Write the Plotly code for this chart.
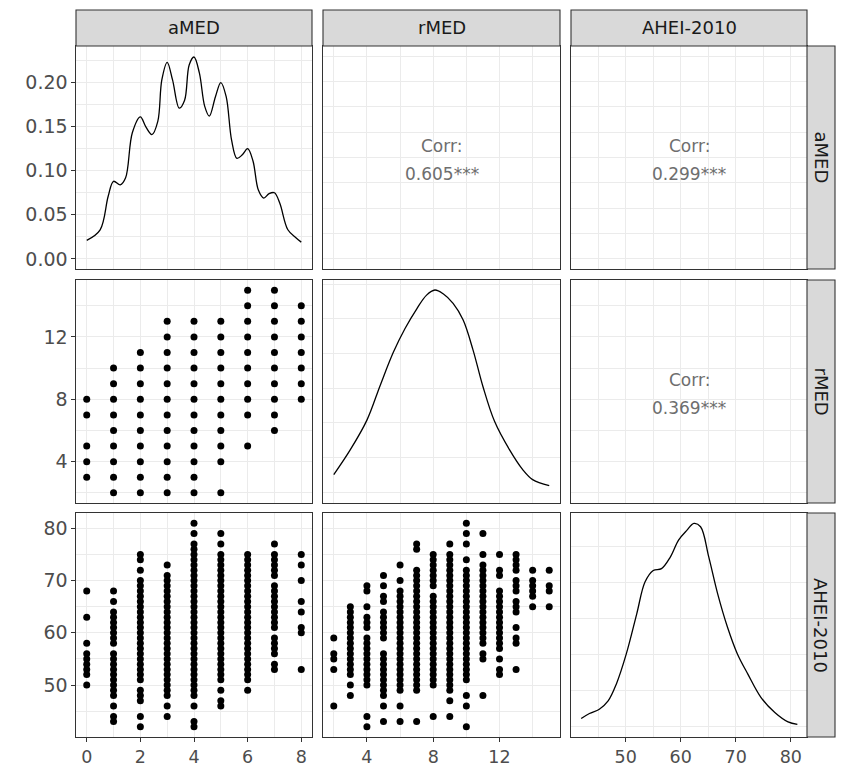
import plotly.graph_objects as go

# ---------------- data ----------------
VARS = ["aMED", "rMED", "AHEI-2010"]

AMED_LEVELS = [0, 1, 2, 3, 4, 5, 6, 7, 8]
RMED_LEVELS = [2, 3, 4, 5, 6, 7, 8, 9, 10, 11, 12, 13, 14, 15]

# rMED values observed at each aMED level (panel row 2, col 1)
RMED_BY_AMED = [
    [8, 7, 5, 4, 3],
    [10, 9, 8, 7, 6, 5, 4, 3, 2],
    [11, 10, 9, 8, 7, 6, 5, 4, 3, 2],
    [13, 12, 11, 10, 9, 8, 7, 6, 5, 4, 3, 2],
    [13, 12, 11, 10, 9, 8, 7, 6, 5, 4, 3, 2],
    [13, 12, 11, 10, 9, 8, 7, 6, 5, 4, 2],
    [15, 14, 13, 12, 11, 10, 9, 8, 7, 5],
    [15, 14, 13, 12, 11, 10, 9, 8, 7, 6],
    [14, 13, 12, 11, 10, 9, 8],
]

# AHEI-2010 values observed at each aMED level (panel row 3, col 1)
AHEI_BY_AMED = [
    [68, 63, 58, 56, 55, 54, 53, 52, 50],
    [68, 66, 64, 63, 62, 61, 60, 59, 58, 56, 55, 54, 53, 52, 51, 50, 49, 48, 46, 44, 43],
    [75, 74, 72, 70, 69, 68, 67, 66, 65, 64, 63, 62, 61, 60, 59, 58, 57, 56, 55, 54, 53, 52, 51,
     49, 48, 47, 44, 42],
    [73, 71, 70, 69, 68, 67, 66, 65, 64, 63, 62, 61, 60, 59, 58, 57, 56, 55, 54, 53, 52, 51, 50,
     49, 48, 46, 44],
    [81, 79, 77, 76, 75, 74, 73, 72, 71, 70, 69, 68, 67, 66, 65, 64, 63, 62, 61, 60, 59, 58, 57,
     56, 55, 54, 53, 52, 51, 50, 49, 48, 46, 43, 42],
    [79, 77, 75, 74, 73, 72, 71, 70, 69, 68, 67, 66, 65, 64, 63, 62, 61, 60, 59, 58, 57, 56, 55,
     54, 53, 52, 51, 49, 47, 46],
    [75, 74, 73, 72, 71, 70, 69, 68, 67, 66, 65, 64, 63, 62, 61, 60, 59, 58, 57, 56, 55, 54, 53,
     52, 51, 49],
    [77, 75, 74, 73, 72, 71, 69, 68, 67, 66, 65, 64, 63, 62, 61, 59, 58, 57, 56, 54, 53],
    [75, 73, 70, 66, 64, 61, 60, 53],
]

# AHEI-2010 values observed at each rMED level (panel row 3, col 2)
AHEI_BY_RMED = [
    [59, 56, 55, 53, 46],
    [65, 64, 63, 62, 61, 60, 59, 58, 57, 56, 55, 54, 53, 52, 50, 48],
    [69, 68, 65, 63, 62, 61, 59, 58, 57, 56, 55, 54, 53, 52, 51, 50, 44, 42],
    [71, 69, 67, 66, 64, 63, 62, 61, 60, 59, 56, 55, 54, 53, 52, 51, 50, 49, 48, 46, 43],
    [73, 70, 68, 67, 66, 65, 64, 63, 62, 61, 60, 59, 58, 57, 56, 55, 54, 53, 52, 51, 50, 49,
     46, 43],
    [77, 76, 72, 71, 70, 69, 68, 67, 66, 65, 64, 63, 62, 61, 60, 59, 58, 57, 56, 55, 54, 53,
     52, 51, 50, 49, 43],
    [75, 74, 73, 72, 71, 70, 69, 67, 66, 65, 64, 63, 62, 61, 60, 59, 58, 57, 56, 55, 54, 53,
     52, 51, 50, 44],
    [77, 75, 74, 73, 72, 71, 70, 69, 68, 67, 66, 65, 64, 63, 62, 61, 60, 59, 58, 57, 56, 55,
     54, 53, 52, 51, 50, 49, 47, 44],
    [81, 79, 77, 74, 72, 71, 70, 69, 68, 67, 66, 65, 64, 63, 62, 61, 60, 59, 58, 57, 56, 55,
     54, 53, 52, 51, 48, 46, 42],
    [79, 75, 73, 72, 71, 70, 69, 68, 67, 66, 65, 64, 63, 62, 61, 60, 59, 58, 56, 55, 48],
    [75, 72, 71, 68, 67, 66, 65, 64, 63, 62, 61, 60, 59, 58, 57, 55, 53, 52],
    [75, 74, 73, 72, 70, 69, 68, 66, 65, 64, 61, 59, 58, 53],
    [72, 70, 69, 68, 67, 65],
    [72, 69, 68, 65],
]

# Diagonal density curves
AMED_DENS_X = [0, 0.5, 0.8, 1.0, 1.25, 1.45, 1.7, 2.0, 2.2, 2.43, 2.65, 2.8, 3.0, 3.2, 3.45,
               3.65, 3.82, 4.0, 4.2, 4.4, 4.57, 4.8, 5.0, 5.2, 5.4, 5.6, 5.8, 6.0, 6.2, 6.4,
               6.6, 6.8, 7.0, 7.2, 7.5, 7.8, 8.0]
AMED_DENS_Y = [0.021, 0.033, 0.071, 0.088, 0.084, 0.092, 0.143, 0.161, 0.150, 0.141, 0.156,
               0.203, 0.223, 0.203, 0.171, 0.180, 0.220, 0.229, 0.211, 0.173, 0.162, 0.184,
               0.200, 0.184, 0.135, 0.114, 0.118, 0.125, 0.111, 0.078, 0.069, 0.074, 0.075,
               0.063, 0.033, 0.024, 0.019]

RMED_DENS_X = [2, 3, 4, 4.8, 5.6, 6.3, 7.0, 7.6, 8.1, 8.6, 9.2, 9.8, 10.4, 11.0, 11.7, 12.6,
               13.4, 14.0, 15.0]
RMED_DENS_Y = [0.0127, 0.0307, 0.0520, 0.0770, 0.1010, 0.1180, 0.1320, 0.1420, 0.1457,
               0.1430, 0.1360, 0.1242, 0.1026, 0.0762, 0.0511, 0.0307, 0.0163, 0.0091, 0.0048]

AHEI_DENS_X = [41.9, 43.4, 45.2, 46.8, 48.3, 50.1, 52.0, 53.5, 55.0, 56.5, 58.1, 59.6, 61.1,
               62.4, 63.6, 65.1, 66.7, 68.5, 70.3, 72.2, 74.6, 77.1, 79.5, 81.2]
AHEI_DENS_Y = [0.0023, 0.0037, 0.0049, 0.0072, 0.0119, 0.0202, 0.0313, 0.0401, 0.0433,
               0.0438, 0.0470, 0.0517, 0.0544, 0.0563, 0.0554, 0.0470, 0.0369, 0.0276,
               0.0202, 0.0146, 0.0081, 0.0040, 0.0014, 0.0007]

CORR_VALUES = {(0, 1): "0.605***", (0, 2): "0.299***", (1, 2): "0.369***"}

# ---------------- layout constants ----------------
W, H = 844, 767
COLS = [(76, 312), (323, 560), (571, 807)]
ROWS = [(46, 269), (280, 503), (513, 737)]
STRIP_TOP = 10
STRIP_RIGHT = 835

FONT = "DejaVu Sans"
GRID = "#EBEBEB"
BORDER = "#333333"
TICKCOL = "#4D4D4D"

# variable scales: range, major tick0/dtick, minor dtick
SCALES = {
    "aMED": dict(range=[-0.4, 8.4], tick0=0, dtick=2, minor=1),
    "rMED": dict(range=[1.35, 15.65], tick0=0, dtick=4, minor=2),
    "AHEI-2010": dict(range=[40.05, 82.95], tick0=0, dtick=10, minor=5),
}
DENS_SCALES = {
    0: dict(range=[-0.0115, 0.2415], tick0=0, dtick=0.05, minor=0.025),
    1: dict(range=[-0.0077, 0.1529], tick0=0, dtick=0.05, minor=0.025),
    2: dict(range=[-0.0028, 0.0592], tick0=0, dtick=0.02, minor=0.01),
}


def px_x(x):
    return x / W


def px_y(y):
    return 1 - y / H


fig = go.Figure()


def axis_dict(scale, domain, anchor, show_labels, fmt=None, fsize=19):
    d = dict(
        domain=domain,
        anchor=anchor,
        automargin=False,
        range=scale["range"],
        tickmode="linear",
        tick0=scale["tick0"],
        dtick=scale["dtick"],
        showgrid=True,
        gridcolor=GRID,
        gridwidth=1.1,
        minor=dict(tickmode="linear", tick0=scale["tick0"], dtick=scale["minor"],
                   showgrid=True, gridcolor=GRID, gridwidth=0.6, ticks=""),
        zeroline=False,
        showline=True,
        mirror=True,
        linecolor=BORDER,
        linewidth=1.1,
        showticklabels=show_labels,
        ticks="outside" if show_labels else "",
        ticklen=3.5,
        tickwidth=1,
        tickcolor=BORDER,
        tickfont=dict(family=FONT, size=fsize, color=TICKCOL),
        fixedrange=True,
    )
    if fmt:
        d["tickformat"] = fmt
    return d


layout_axes = {}
for r in range(3):
    for c in range(3):
        k = r * 3 + c + 1
        xname = "xaxis" if k == 1 else f"xaxis{k}"
        yname = "yaxis" if k == 1 else f"yaxis{k}"
        xref = "x" if k == 1 else f"x{k}"
        yref = "y" if k == 1 else f"y{k}"
        xdom = [px_x(COLS[c][0]), px_x(COLS[c][1])]
        ydom = [px_y(ROWS[r][1]), px_y(ROWS[r][0])]
        xs = SCALES[VARS[c]]
        if r == c:
            ys = DENS_SCALES[r]
        else:
            ys = SCALES[VARS[r]]
        show_x = (r == 2)
        show_y = (c == 0)
        layout_axes[xname] = axis_dict(xs, xdom, yref, show_x, fsize=17.5)
        layout_axes[yname] = axis_dict(ys, ydom, xref, show_y,
                                       fmt=".2f" if (r == 0 and c == 0) else None)

        # traces
        if r == c:
            dx, dy = [(AMED_DENS_X, AMED_DENS_Y), (RMED_DENS_X, RMED_DENS_Y),
                      (AHEI_DENS_X, AHEI_DENS_Y)][r]
            fig.add_trace(go.Scatter(x=dx, y=dy, mode="lines",
                                     line=dict(color="black", width=1.3, shape="spline",
                                               smoothing=1.0),
                                     xaxis=xref, yaxis=yref, showlegend=False,
                                     hoverinfo="skip"))
        elif r > c:
            if (r, c) == (1, 0):
                levels, groups = AMED_LEVELS, RMED_BY_AMED
            elif (r, c) == (2, 0):
                levels, groups = AMED_LEVELS, AHEI_BY_AMED
            else:
                levels, groups = RMED_LEVELS, AHEI_BY_RMED
            xs_pts, ys_pts = [], []
            for lv, vals in zip(levels, groups):
                for v in vals:
                    xs_pts.append(lv)
                    ys_pts.append(v)
            fig.add_trace(go.Scatter(x=xs_pts, y=ys_pts, mode="markers",
                                     marker=dict(color="black", size=7, line=dict(width=0)),
                                     xaxis=xref, yaxis=yref, showlegend=False,
                                     hoverinfo="skip"))
        else:
            # empty trace to activate axes
            fig.add_trace(go.Scatter(x=[None], y=[None], mode="markers",
                                     xaxis=xref, yaxis=yref, showlegend=False,
                                     hoverinfo="skip"))

shapes = []
annotations = []

# top strips
for c in range(3):
    x0, x1 = COLS[c]
    shapes.append(dict(type="rect", xref="paper", yref="paper",
                       x0=px_x(x0), x1=px_x(x1), y0=px_y(ROWS[0][0]), y1=px_y(STRIP_TOP),
                       fillcolor="#D9D9D9", line=dict(color=BORDER, width=1.1), layer="above"))
    annotations.append(dict(xref="paper", yref="paper", x=px_x((x0 + x1) / 2),
                            y=px_y((STRIP_TOP + ROWS[0][0]) / 2), text=VARS[c],
                            showarrow=False, xanchor="center", yanchor="middle",
                            font=dict(family=FONT, size=18, color="#1A1A1A")))

# right strips
for r in range(3):
    y0, y1 = ROWS[r]
    shapes.append(dict(type="rect", xref="paper", yref="paper",
                       x0=px_x(COLS[2][1]), x1=px_x(STRIP_RIGHT), y0=px_y(y1), y1=px_y(y0),
                       fillcolor="#D9D9D9", line=dict(color=BORDER, width=1.1), layer="above"))
    annotations.append(dict(xref="paper", yref="paper", x=px_x((COLS[2][1] + STRIP_RIGHT) / 2),
                            y=px_y((y0 + y1) / 2), text=VARS[r], textangle=90,
                            showarrow=False, xanchor="center", yanchor="middle",
                            font=dict(family=FONT, size=18, color="#1A1A1A")))

# correlation texts
for (r, c), val in CORR_VALUES.items():
    cx = (COLS[c][0] + COLS[c][1]) / 2
    cy = (ROWS[r][0] + ROWS[r][1]) / 2
    annotations.append(dict(xref="paper", yref="paper", x=px_x(cx), y=px_y(cy - 12),
                            text="Corr:", showarrow=False, xanchor="center", yanchor="middle",
                            font=dict(family=FONT, size=17, color="#6E6E6E")))
    annotations.append(dict(xref="paper", yref="paper", x=px_x(cx), y=px_y(cy + 16),
                            text=val, showarrow=False, xanchor="center", yanchor="middle",
                            font=dict(family=FONT, size=17, color="#6E6E6E")))

fig.update_layout(
    width=W, height=H, autosize=False,
    margin=dict(l=0, r=0, t=0, b=0, pad=0),
    paper_bgcolor="white", plot_bgcolor="white",
    showlegend=False,
    shapes=shapes, annotations=annotations,
    **layout_axes,
)

fig.write_html("out.html", config={"displayModeBar": False})
